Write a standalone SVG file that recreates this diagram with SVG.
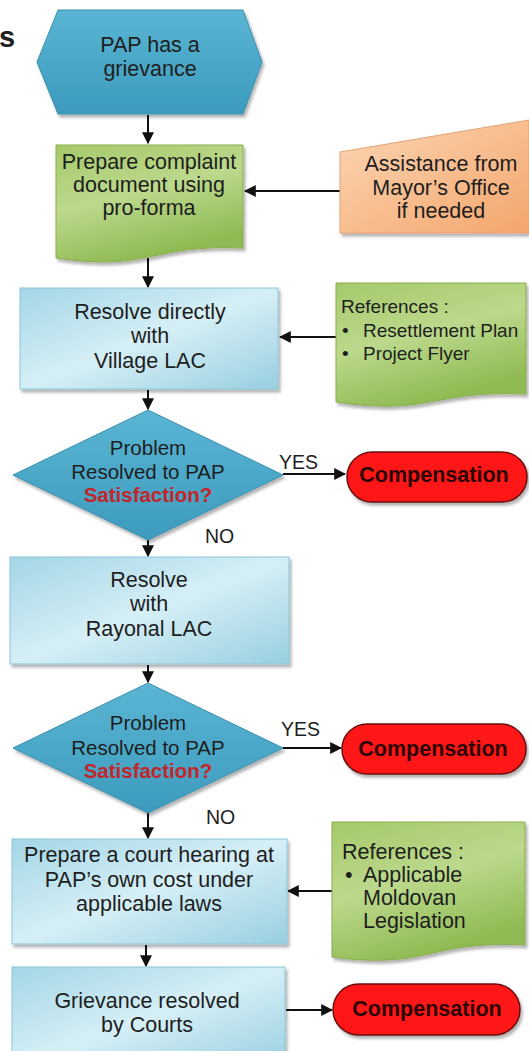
<svg xmlns="http://www.w3.org/2000/svg" width="529" height="1051" viewBox="0 0 529 1051">
<defs>
<style>
.t{font-family:"Liberation Sans",Arial,sans-serif;font-size:21.5px;fill:#1e1e1e;text-anchor:middle}
.d{font-family:"Liberation Sans",Arial,sans-serif;font-size:20.5px;fill:#1e1e1e;text-anchor:middle}
.sat{font-weight:bold;fill:#c4252b}
.r{font-family:"Liberation Sans",Arial,sans-serif;fill:#1e1e1e}
.lbl{font-family:"Liberation Sans",Arial,sans-serif;font-size:19.5px;fill:#1e1e1e}
.comp{font-family:"Liberation Sans",Arial,sans-serif;font-size:21.5px;font-weight:bold;fill:#2b0505;text-anchor:middle}
.box{fill:url(#gBlue);stroke:#8cc6d8;stroke-width:1}
.doc{fill:url(#gGreen);stroke:#8aad4c;stroke-width:1}
.dia{fill:url(#gTeal);stroke:#3a8fb0;stroke-width:1}
.pill{fill:#ff1616;stroke:#6a0e0e;stroke-width:1.5}
.c{stroke:#111;stroke-width:2;fill:none;marker-end:url(#ah)}
</style>
<linearGradient id="gBlue" x1="0" y1="0" x2="1" y2="1">
<stop offset="0" stop-color="#a3d6e6"/>
<stop offset="0.5" stop-color="#d6eff6"/>
<stop offset="1" stop-color="#98cfe0"/>
</linearGradient>
<linearGradient id="gGreen" x1="0" y1="0" x2="0.4" y2="1">
<stop offset="0" stop-color="#a5c96a"/>
<stop offset="0.5" stop-color="#bcd98c"/>
<stop offset="1" stop-color="#8fba52"/>
</linearGradient>
<linearGradient id="gTeal" x1="0" y1="0" x2="0" y2="1">
<stop offset="0" stop-color="#5ab5d3"/>
<stop offset="1" stop-color="#3d9bbd"/>
</linearGradient>
<linearGradient id="gOrange" x1="0" y1="0" x2="1" y2="1">
<stop offset="0" stop-color="#fbd6b5"/>
<stop offset="1" stop-color="#f4a66c"/>
</linearGradient>
<filter id="sh" x="-10%" y="-10%" width="125%" height="130%">
<feDropShadow dx="2" dy="3" stdDeviation="1.5" flood-color="#000" flood-opacity="0.3"/>
</filter>
<marker id="ah" viewBox="0 0 10 10" refX="9" refY="5" markerWidth="6" markerHeight="6" orient="auto" markerUnits="strokeWidth">
<path d="M0,0 L10,5 L0,10 Z" fill="#111"/>
</marker>
</defs>
<rect width="529" height="1051" fill="#ffffff"/>

<text x="-1" y="47" style="font-family:'Liberation Sans',Arial,sans-serif;font-size:29px;font-weight:bold;fill:#222">s</text>

<g id="connectors">
<line class="c" x1="148" y1="115" x2="148" y2="143"/>
<line class="c" x1="340" y1="191" x2="245" y2="191"/>
<line class="c" x1="148" y1="258" x2="148" y2="287"/>
<line class="c" x1="336" y1="337" x2="280" y2="337"/>
<line class="c" x1="148" y1="390" x2="148" y2="409"/>
<line class="c" x1="283" y1="474" x2="345" y2="474"/>
<line class="c" x1="148" y1="540" x2="148" y2="556"/>
<line class="c" x1="148" y1="665" x2="148" y2="682"/>
<line class="c" x1="283" y1="748" x2="341" y2="748"/>
<line class="c" x1="148" y1="813" x2="148" y2="838"/>
<line class="c" x1="332" y1="891" x2="288" y2="891"/>
<line class="c" x1="146" y1="945" x2="146" y2="966"/>
<line class="c" x1="286" y1="1010" x2="332" y2="1010"/>
<text class="lbl" x="279" y="469">YES</text>
<text class="lbl" x="205" y="543">NO</text>
<text class="lbl" x="281" y="736">YES</text>
<text class="lbl" x="206" y="824">NO</text>
</g>

<g id="start">
<path class="dia" filter="url(#sh)" d="M37,62 L58,10 L243,10 L262,62 L243,114 L58,114 Z"/>
<text class="t" x="150" y="52">PAP has a</text>
<text class="t" x="150" y="76">grievance</text>
</g>

<g id="prepare-complaint">
<path class="doc" filter="url(#sh)" d="M56,145 H243 V248 C150,244 150,272 56,258 Z"/>
<text class="t" x="149" y="169">Prepare complaint</text>
<text class="t" x="149" y="192">document using</text>
<text class="t" x="149" y="215">pro-forma</text>
</g>

<g id="assistance">
<path fill="url(#gOrange)" stroke="#e8a070" stroke-width="1" filter="url(#sh)" d="M340,152 L529,120 L529,233 L340,233 Z"/>
<text class="t" x="441" y="171">Assistance from</text>
<text class="t" x="441" y="195">Mayor’s Office</text>
<text class="t" x="441" y="218">if needed</text>
</g>

<g id="village-lac">
<rect class="box" filter="url(#sh)" x="20" y="288" width="258" height="101"/>
<text class="t" x="150" y="319">Resolve directly</text>
<text class="t" x="150" y="343">with</text>
<text class="t" x="150" y="368">Village LAC</text>
</g>

<g id="references-1">
<path class="doc" filter="url(#sh)" d="M336,283 H526 V394 C431,390 431,416 336,402 Z"/>
<text class="r" x="341" y="313" font-size="19">References :</text>
<text class="r" x="342" y="337" font-size="19">•</text>
<text class="r" x="363" y="337" font-size="19">Resettlement Plan</text>
<text class="r" x="342" y="360" font-size="19">•</text>
<text class="r" x="363" y="360" font-size="19">Project Flyer</text>
</g>

<g id="decision-1">
<path class="dia" filter="url(#sh)" d="M148,410 L283,475 L148,540 L13,475 Z"/>
<text class="d" x="148" y="455">Problem</text>
<text class="d" x="148" y="479">Resolved to PAP</text>
<text class="d sat" x="148" y="502">Satisfaction?</text>
</g>

<g id="compensation-1">
<rect class="pill" filter="url(#sh)" x="347" y="452" width="180" height="50" rx="25"/>
<text class="comp" x="434" y="482">Compensation</text>
</g>

<g id="rayonal-lac">
<rect class="box" filter="url(#sh)" x="10" y="557" width="279" height="107"/>
<text class="t" x="149" y="587">Resolve</text>
<text class="t" x="149" y="611">with</text>
<text class="t" x="149" y="636">Rayonal LAC</text>
</g>

<g id="decision-2">
<path class="dia" filter="url(#sh)" d="M148,683 L283,748 L148,813 L13,748 Z"/>
<text class="d" x="148" y="730">Problem</text>
<text class="d" x="148" y="755">Resolved to PAP</text>
<text class="d sat" x="148" y="778">Satisfaction?</text>
</g>

<g id="compensation-2">
<rect class="pill" filter="url(#sh)" x="342" y="724" width="184" height="50" rx="25"/>
<text class="comp" x="433" y="756">Compensation</text>
</g>

<g id="court-hearing">
<rect class="box" filter="url(#sh)" x="12" y="839" width="275" height="105"/>
<text class="t" x="149" y="862">Prepare a court hearing at</text>
<text class="t" x="149" y="887">PAP’s own cost under</text>
<text class="t" x="149" y="911">applicable laws</text>
</g>

<g id="references-2">
<path class="doc" filter="url(#sh)" d="M332,822 H525 V945 C428,940 428,970 332,957 Z"/>
<text class="r" x="342" y="859" font-size="21.5">References :</text>
<text class="r" x="345" y="882" font-size="21.5">•</text>
<text class="r" x="363" y="882" font-size="21.5">Applicable</text>
<text class="r" x="363" y="905" font-size="21.5">Moldovan</text>
<text class="r" x="363" y="928" font-size="21.5">Legislation</text>
</g>

<g id="courts">
<rect class="box" filter="url(#sh)" x="12" y="967" width="273" height="100"/>
<text class="t" x="147" y="1008">Grievance resolved</text>
<text class="t" x="147" y="1032">by Courts</text>
</g>

<g id="compensation-3">
<rect class="pill" filter="url(#sh)" x="333" y="984" width="187" height="51" rx="25.5"/>
<text class="comp" x="427" y="1016">Compensation</text>
</g>
</svg>
